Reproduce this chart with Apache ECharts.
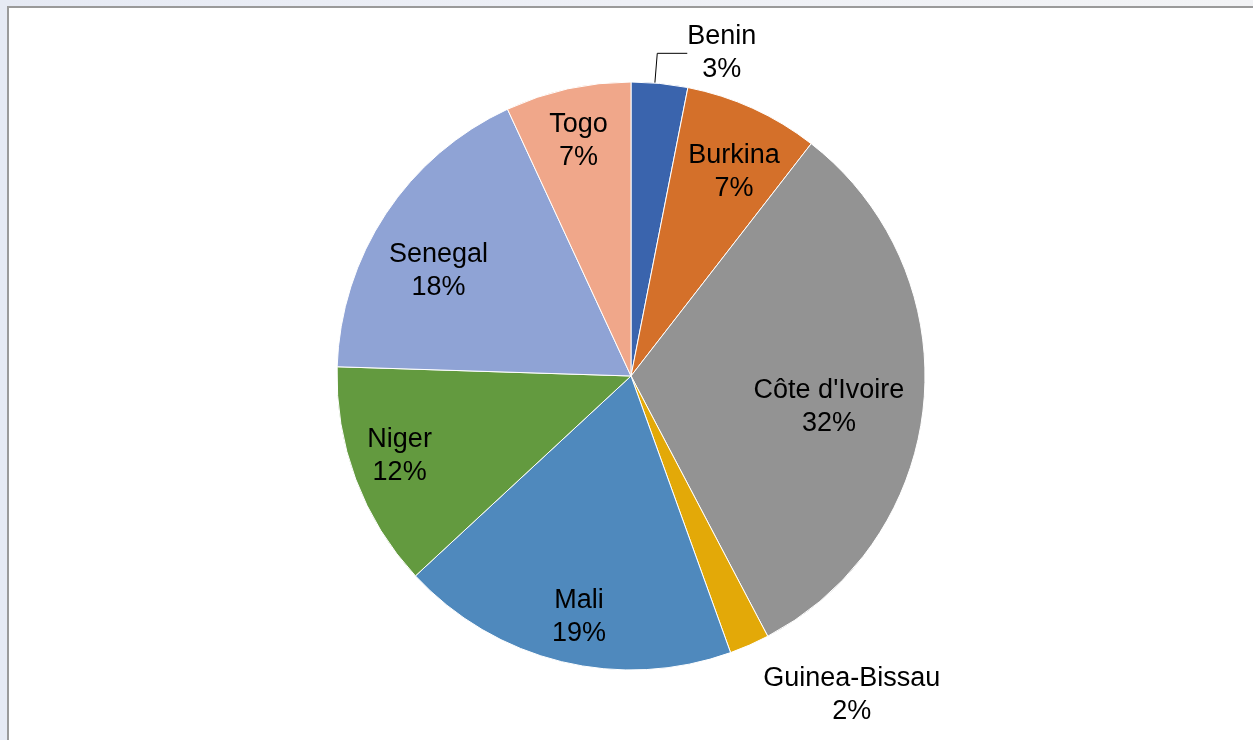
<!DOCTYPE html>
<html>
<head>
<meta charset="utf-8">
<script src="https://cdn.jsdelivr.net/npm/echarts@6/dist/echarts.min.js"></script>
<style>
  html, body { margin: 0; padding: 0; width: 1253px; height: 740px; overflow: hidden;
    background: linear-gradient(90deg, #e6eaf4 0%, #eef0f6 50%, #f2f3f5 100%); }
  #frame { position: absolute; left: 7px; top: 6px; width: 1260px; height: 750px;
    background: #fff; border-left: 2px solid #9a9a9a; border-top: 2px solid #9a9a9a; }
  #chart { position: absolute; left: 0; top: 0; width: 1253px; height: 740px; }
</style>
</head>
<body>
<div id="frame"></div>
<div id="chart"></div>
<script>
const countries = ["Benin", "Burkina", "Côte d'Ivoire", "Guinea-Bissau", "Mali", "Niger", "Senegal", "Togo"];
const shares = [3.1, 7.4, 31.8, 2.2, 18.6, 12.4, 17.6, 6.9];
const colors = ["#3a64ad", "#d4702a", "#939393", "#e3a908", "#4f89bd", "#639a3f", "#8fa3d5", "#f0a78a"];

// label placement: distance from centre (fraction of radius) and angle tweak
const labelRadius = [1.15, 0.785, 0.68, 1.31, 0.83, 0.83, 0.75, 0.83];
const labelTurn = [10, 2, 3, -11.2, -1.4, 2, -4.3, 0];

const cx = 631, cy = 376, r = 294;

const total = shares.reduce((a, b) => a + b, 0);
let acc = 0;
const midAngles = shares.map(v => {
  const m = (acc + v / 2) / total * 360;
  acc += v;
  return m;
});

const myChart = echarts.init(document.getElementById("chart"));
const option = {
  animation: false,
  series: [
    {
      type: "pie",
      center: [cx, cy],
      radius: r,
      startAngle: 90,
      clockwise: true,
      avoidLabelOverlap: false,
      itemStyle: { borderColor: "#fff", borderWidth: 1 },
      label: {
        show: true,
        position: "inside",
        color: "#000",
        fontFamily: "Liberation Sans, Arial, sans-serif",
        fontSize: 27,
        lineHeight: 33,
        align: "center",
        formatter: p => p.name + "\n" + Math.round(p.percent) + "%"
      },
      labelLine: { show: false },
      labelLayout: function (params) {
        const i = params.dataIndex;
        const a = (midAngles[i] + labelTurn[i]) * Math.PI / 180;
        const d = labelRadius[i] * r;
        return {
          x: cx + d * Math.sin(a),
          y: cy - d * Math.cos(a) + 3,
          align: "center",
          verticalAlign: "middle"
        };
      },
      emphasis: { disabled: true },
      data: countries.map((name, i) => {
        const item = { name: name, value: shares[i], itemStyle: { color: colors[i] } };
        if (i === 0) {
          item.labelLine = { show: true, lineStyle: { color: "#000", width: 1 } };
        }
        return item;
      })
    }
  ]
};
myChart.setOption(option);
</script>
</body>
</html>
